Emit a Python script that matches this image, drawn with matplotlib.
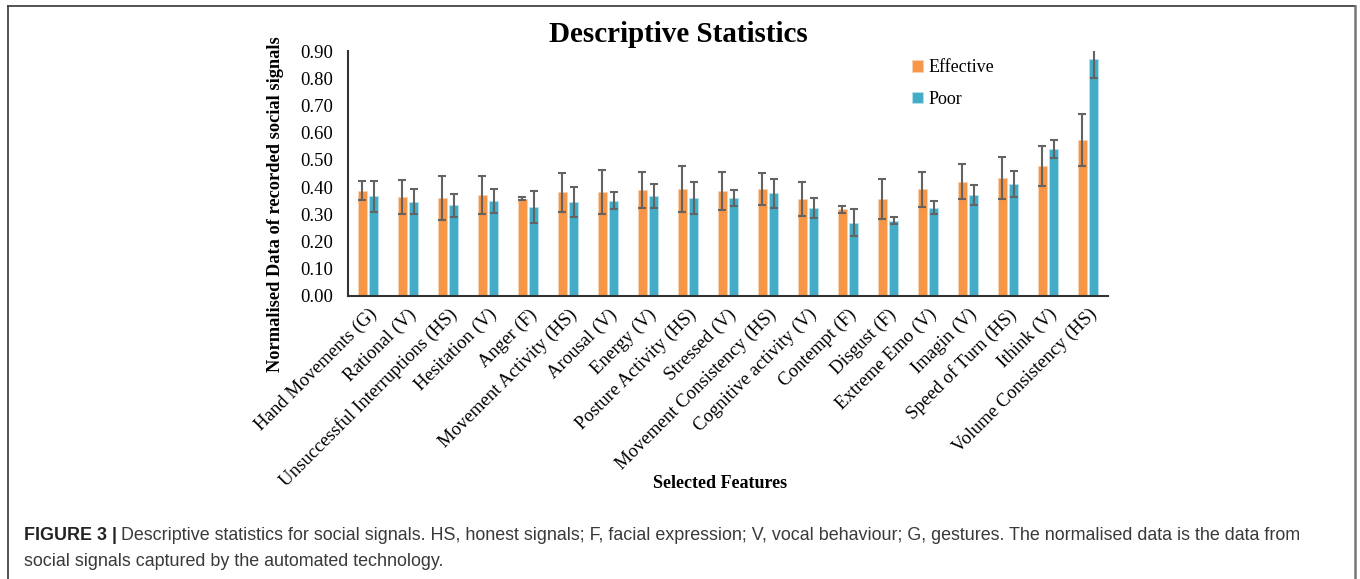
import matplotlib
matplotlib.use("Agg")
import matplotlib.pyplot as plt
from matplotlib.lines import Line2D
import numpy as np

# Selected features and their normalised mean values with standard deviations
features = [
    "Hand Movements (G)", "Rational (V)", "Unsuccessful Interruptions (HS)",
    "Hesitation (V)", "Anger (F)", "Movement Activity (HS)", "Arousal (V)",
    "Energy (V)", "Posture Activity (HS)", "Stressed (V)",
    "Movement Consistency (HS)", "Cognitive activity (V)", "Contempt (F)",
    "Disgust (F)", "Extreme Emo (V)", "Imagin (V)", "Speed of Turn (HS)",
    "Ithink (V)", "Volume Consistency (HS)",
]
effective = [0.387, 0.365, 0.360, 0.370, 0.358, 0.381, 0.382, 0.389, 0.393,
             0.386, 0.394, 0.356, 0.318, 0.355, 0.392, 0.420, 0.432, 0.478,
             0.573]
effective_sd = [0.036, 0.062, 0.080, 0.070, 0.004, 0.071, 0.080, 0.065, 0.083,
                0.070, 0.058, 0.063, 0.012, 0.073, 0.064, 0.065, 0.077, 0.073,
                0.095]
poor = [0.367, 0.347, 0.334, 0.349, 0.327, 0.344, 0.350, 0.366, 0.359,
        0.360, 0.377, 0.323, 0.269, 0.276, 0.325, 0.371, 0.411, 0.540,
        0.871]
poor_sd = [0.057, 0.047, 0.042, 0.044, 0.060, 0.055, 0.032, 0.044, 0.059,
           0.030, 0.052, 0.038, 0.050, 0.013, 0.023, 0.035, 0.047, 0.032,
           0.070]
y_ticks = [0.0, 0.1, 0.2, 0.3, 0.4, 0.5, 0.6, 0.7, 0.8, 0.9]

ORANGE = "#F79646"
BLUE = "#43ACC6"
ERR = "#636363"
SERIF = ["Liberation Serif", "DejaVu Serif"]

fig = plt.figure(figsize=(13.6, 5.79), dpi=100)
ax = fig.add_axes([348 / 1360, 1 - 296 / 579, 760 / 1360, 245 / 579])

x = np.arange(len(features))
w = 0.235
off = 0.144
err_kw = dict(ecolor=ERR, elinewidth=1.5, capsize=3, capthick=1.5)
ax.bar(x - off, effective, w, yerr=effective_sd, color=ORANGE,
       edgecolor="#fbd3b3", linewidth=0.6, error_kw=err_kw, label="Effective")
ax.bar(x + off, poor, w, yerr=poor_sd, color=BLUE,
       edgecolor="#b5e0ea", linewidth=0.6, error_kw=err_kw, label="Poor")

ax.set_xlim(-0.5, len(features) - 0.5)
ax.set_ylim(0, 0.9)
ax.set_yticks(y_ticks)
ax.set_yticklabels([f"{v:.2f}" for v in y_ticks], fontfamily=SERIF,
                   fontsize=13.5)
ax.set_xticks(x)
ax.set_xticklabels(features, rotation=45, ha="right", va="top",
                   rotation_mode="anchor", fontfamily=SERIF, fontsize=13.5)
ax.tick_params(axis="both", length=0)
ax.tick_params(axis="y", pad=10.5)
ax.tick_params(axis="x", pad=7)
for s in ("top", "right"):
    ax.spines[s].set_visible(False)
for s in ("left", "bottom"):
    ax.spines[s].set_color("#333333")
    ax.spines[s].set_linewidth(1.5)

leg = fig.legend(loc="upper left", bbox_to_anchor=(905 / 1360, 1 - 52 / 579),
                 frameon=False, prop={"family": SERIF, "size": 13},
                 handlelength=0.6, handleheight=0.6, handletextpad=0.3,
                 labelspacing=0.8, borderaxespad=0)

fig.text(678 / 1360, 1 - 35 / 579, "Descriptive Statistics", ha="center",
         va="center", fontfamily=SERIF, fontweight="bold", fontsize=21)
fig.text(275 / 1360, 1 - 204 / 579, "Normalised Data of recorded social signals",
         rotation=90, ha="center", va="center", fontfamily=SERIF,
         fontweight="bold", fontsize=13.2)
fig.text(720 / 1360, 1 - 483 / 579, "Selected Features", ha="center",
         va="center", fontfamily=SERIF, fontweight="bold", fontsize=13)

# Caption below the chart
SANS = ["Liberation Sans", "DejaVu Sans"]
cap_y1 = 1 - 536 / 579
cap_y2 = 1 - 562 / 579
cap_size = 12.9
t_bold = fig.text(24 / 1360, cap_y1, "FIGURE 3 |", ha="left", va="center",
                  fontfamily=SANS, fontweight="bold", fontsize=cap_size,
                  color="#222222")
fig.canvas.draw()
bb = t_bold.get_window_extent()
fig.text((bb.x1 + 4) / 1360, cap_y1,
         "Descriptive statistics for social signals. HS, honest signals; F, "
         "facial expression; V, vocal behaviour; G, gestures. The normalised "
         "data is the data from",
         ha="left", va="center", fontfamily=SANS, fontsize=cap_size,
         color="#3a3a3a")
fig.text(24 / 1360, cap_y2,
         "social signals captured by the automated technology.",
         ha="left", va="center", fontfamily=SANS, fontsize=cap_size,
         color="#3a3a3a")

# Frame around the figure panel
fig.add_artist(Line2D([8 / 1360, 8 / 1360], [0, 1 - 6 / 579],
                      transform=fig.transFigure, color="#444444", lw=1.3))
fig.add_artist(Line2D([8 / 1360, 1355 / 1360], [1 - 6 / 579, 1 - 6 / 579],
                      transform=fig.transFigure, color="#444444", lw=1.3))
fig.add_artist(Line2D([1355 / 1360, 1355 / 1360], [0, 1 - 6 / 579],
                      transform=fig.transFigure, color="#777777", lw=1.8))

fig.savefig("out.png", dpi=100, facecolor="white")
